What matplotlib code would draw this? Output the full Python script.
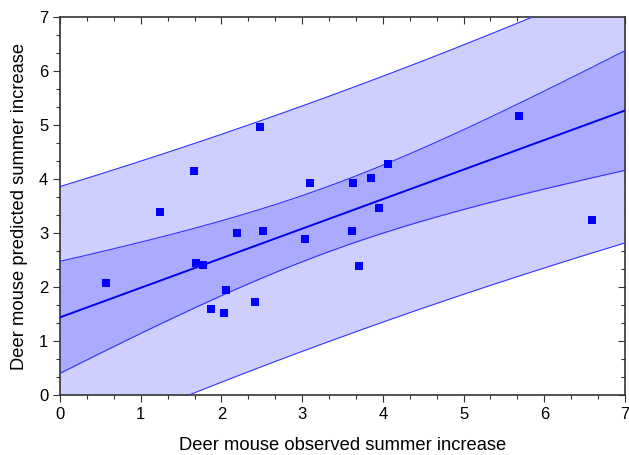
import numpy as np
import matplotlib
matplotlib.use("Agg")
import matplotlib.pyplot as plt
from matplotlib.ticker import MultipleLocator

plt.rcParams['font.family'] = ['Liberation Sans', 'DejaVu Sans']

observed = [0.566, 1.239, 1.657, 1.685, 1.768, 1.867, 2.036, 2.057, 2.19, 2.42, 2.482,
            2.519, 3.04, 3.098, 3.631, 3.618, 3.701, 3.858, 3.949, 4.061, 5.692, 6.589]
predicted = [2.074, 3.394, 4.148, 2.439, 2.413, 1.598, 1.519, 1.944, 2.994, 1.722, 4.969,
             3.043, 2.883, 3.932, 3.92, 3.037, 2.389, 4.013, 3.457, 4.284, 5.172, 3.247]

# regression shown in the chart
fit_intercept = 1.439
fit_slope = 0.5476
fit_t_s = 2.19        # t * residual standard error
fit_n = 13
fit_xmean = 3.33
fit_sxx = 75.0

x = np.array(observed)
y = np.array(predicted)

xs = np.linspace(0, 7, 300)
yfit = fit_intercept + fit_slope * xs
h_mean = fit_t_s * np.sqrt(1.0 / fit_n + (xs - fit_xmean) ** 2 / fit_sxx)
h_pred = fit_t_s * np.sqrt(1.0 + 1.0 / fit_n + (xs - fit_xmean) ** 2 / fit_sxx)
ci_lo, ci_hi = yfit - h_mean, yfit + h_mean
pi_lo, pi_hi = yfit - h_pred, yfit + h_pred

fig = plt.figure(figsize=(6.29, 4.55), dpi=100)
ax = fig.add_axes([0.0954, 0.1319, 0.8982, 0.8301])

ax.fill_between(xs, pi_lo, pi_hi, color='#CFCFFF', lw=0, zorder=1)
ax.fill_between(xs, ci_lo, ci_hi, color='#AAAAFF', lw=0, zorder=2)
for arr in (pi_lo, pi_hi, ci_lo, ci_hi):
    ax.plot(xs, arr, color='#3333FF', lw=0.8, zorder=3)
ax.plot(xs, yfit, color='#0000EE', lw=1.4, zorder=4)
ax.scatter(x, y, marker='s', s=28, color='#0000FF', lw=0, zorder=5)

ax.set_xlim(0, 7)
ax.set_ylim(0, 7)
ax.xaxis.set_major_locator(MultipleLocator(1))
ax.yaxis.set_major_locator(MultipleLocator(1))
ax.xaxis.set_minor_locator(MultipleLocator(1 / 3))
ax.yaxis.set_minor_locator(MultipleLocator(1 / 3))
ax.tick_params(which='major', direction='out', length=5, width=0.8, labelsize=12, color='#333333')
ax.tick_params(which='minor', direction='out', length=3, width=0.8, color='#333333')

for side in ('top', 'right'):
    sec = ax.secondary_xaxis('top') if side == 'top' else ax.secondary_yaxis('right')
    axis = sec.xaxis if side == 'top' else sec.yaxis
    axis.set_major_locator(MultipleLocator(1))
    axis.set_minor_locator(MultipleLocator(1 / 3))
    sec.tick_params(which='major', direction='in', length=5, width=0.8, color='#333333')
    sec.tick_params(which='minor', direction='in', length=3, width=0.8, color='#333333')
    sec.tick_params(which='both', labeltop=False, labelright=False)
    for sp in sec.spines.values():
        sp.set_visible(False)

for sp in ax.spines.values():
    sp.set_color('#333333')
    sp.set_linewidth(1.2)

ax.set_xlabel('Deer mouse observed summer increase', fontsize=13.2, labelpad=11)
ax.set_ylabel('Deer mouse predicted summer increase', fontsize=13.2, labelpad=8)

fig.savefig('out.png', dpi=100)
